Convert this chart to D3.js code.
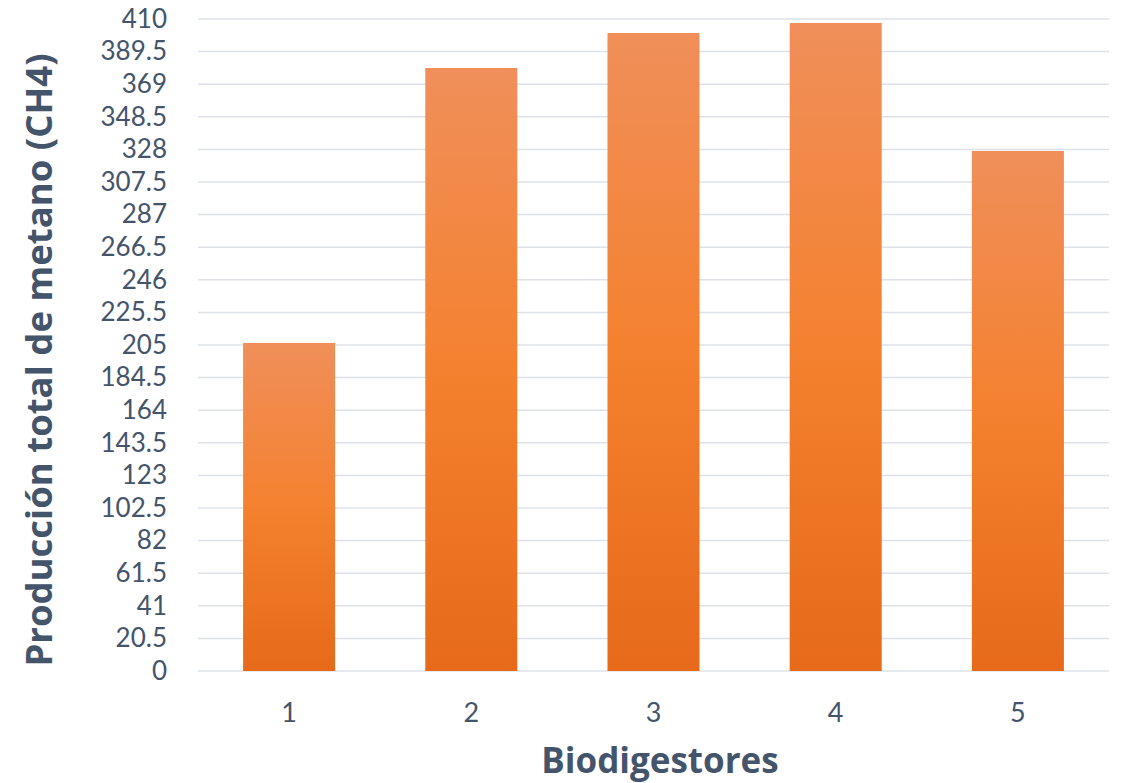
<!DOCTYPE html>
<html><head><meta charset="utf-8">
<script src="https://cdn.jsdelivr.net/npm/d3@7"></script>
<style>body{margin:0;background:#fff}svg{display:block}</style>
</head><body>
<script>
const categories = ["1","2","3","4","5"];
const values = [206.3, 379.2, 401.2, 407.5, 327.0];
const yTicks = [0,20.5,41,61.5,82,102.5,123,143.5,164,184.5,205,225.5,246,266.5,287,307.5,328,348.5,369,389.5,410];
const yTitle = "Producción total de metano (CH4)";
const xTitle = "Biodigestores";

const W=1122,H=783;
const m={l:198,r:13,t:19,b:112};
const svg=d3.select("body").append("svg").attr("width",W).attr("height",H);
const defs=svg.append("defs");
const g=defs.append("linearGradient").attr("id","grad").attr("x1",0).attr("y1",0).attr("x2",0).attr("y2",1);
g.append("stop").attr("offset","0%").attr("stop-color","#F08F5A");
g.append("stop").attr("offset","50%").attr("stop-color","#F4812F");
g.append("stop").attr("offset","100%").attr("stop-color","#E66A19");

const x=d3.scaleBand().domain(categories).range([m.l,W-m.r]).paddingInner(0.495).paddingOuter(0.2475);
const y=d3.scaleLinear().domain([0,410]).range([H-m.b,m.t]);
const font="'Open Sans', Lato, sans-serif";
const tickFont="Lato, 'Open Sans', sans-serif";
const tc="#44546A";

svg.append("g").selectAll("line").data(yTicks).join("line")
 .attr("x1",m.l).attr("x2",W-m.r).attr("y1",d=>y(d)).attr("y2",d=>y(d))
 .attr("stroke","#DEE2E8").attr("stroke-width",1.5);

const yAxis=svg.append("g").attr("transform",`translate(${m.l},0)`)
 .call(d3.axisLeft(y).tickValues(yTicks).tickSize(0).tickPadding(31).tickFormat(d=>String(d)));
yAxis.select(".domain").remove();
yAxis.selectAll("text").attr("font-family",tickFont).attr("font-size",26).attr("fill",tc);

svg.append("g").selectAll("rect").data(values).join("rect")
 .attr("x",(d,i)=>x(categories[i])).attr("width",x.bandwidth())
 .attr("y",d=>y(d)).attr("height",d=>y(0)-y(d)).attr("fill","url(#grad)");

const xAxis=svg.append("g").attr("transform",`translate(0,${y(0)})`)
 .call(d3.axisBottom(x).tickSize(0).tickPadding(32));
xAxis.select(".domain").remove();
xAxis.selectAll("text").attr("font-family",tickFont).attr("font-size",27).attr("fill",tc);

svg.append("text").attr("transform",`translate(52,360) rotate(-90)`)
 .attr("text-anchor","middle").attr("font-family",font).attr("font-weight","bold")
 .attr("font-size",36.5).attr("fill",tc).text(yTitle);
svg.append("text").attr("x",660).attr("y",773).attr("text-anchor","middle")
 .attr("font-family",font).attr("font-weight","bold").attr("font-size",35).attr("fill",tc).text(xTitle);
</script>
</body></html>
